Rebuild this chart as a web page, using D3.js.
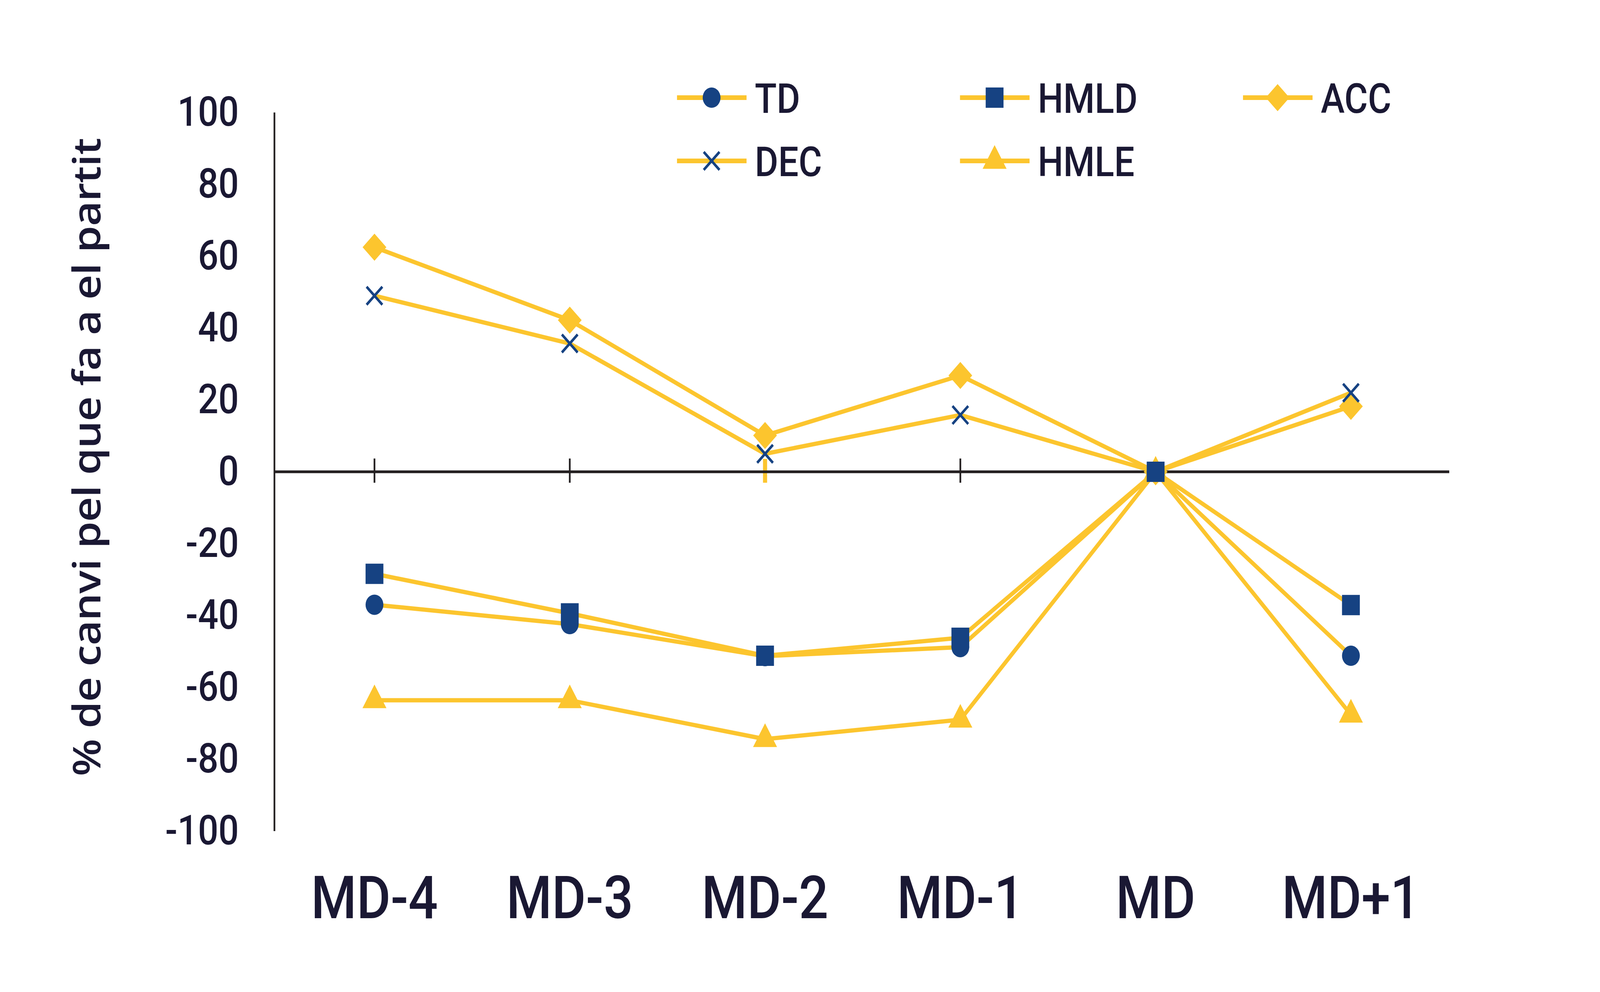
<!DOCTYPE html>
<html>
<head>
<meta charset="utf-8">
<script src="https://cdn.jsdelivr.net/npm/d3@7"></script>
<style>
  html, body { margin: 0; padding: 0; background: #fff; overflow: hidden; }
  svg { display: block; width: 100vw; height: 100vh; }
</style>
</head>
<body>
<svg id="chart"></svg>
<script>
// DATA
var categories = ["MD-4", "MD-3", "MD-2", "MD-1", "MD", "MD+1"];
var td   = [-37.0, -42.4, -51.3, -48.8, 0, -51.2];
var hmld = [-28.4, -39.4, -51.2, -46.2, 0, -37.1];
var acc  = [62.5, 42.2, 10.1, 26.8, 0, 18.2];
var dec  = [49.0, 35.7, 5.0, 15.8, 0, 22.0];
var hmle = [-63.6, -63.6, -74.4, -69.0, 0, -67.6];
var yTicks = [100, 80, 60, 40, 20, 0, -20, -40, -60, -80, -100];
var yTitle = "% de canvi pel que fa a el partit";

var series = [
    { name: "TD",   values: td,   marker: "circle" },
    { name: "HMLD", values: hmld, marker: "square" },
    { name: "ACC",  values: acc,  marker: "diamond" },
    { name: "DEC",  values: dec,  marker: "cross" },
    { name: "HMLE", values: hmle, marker: "triangle" }
];

var YELLOW = "#FCC52E", NAVY = "#164282", TEXT = "#1A1833", AXIS = "#231F20";

// the drawing is laid out in a 4670 x 2540 box and stretched to fill the window
var W = 4670, H = 2540;
var svg = d3.select("#chart")
    .attr("viewBox", "0 0 " + W + " " + H)
    .attr("preserveAspectRatio", "none");
svg.append("rect").attr("width", W).attr("height", H).attr("fill", "#fff");

// SCALES
var x = d3.scalePoint().domain(categories).range([1093, 3943]);
var y = d3.scaleLinear().domain([-100, 100]).range([2128, 288]);
var axisLeftX = 801, axisRightX = 4230;

// marker shapes
var crossType = {
    draw: function (ctx, size) {
        var r = Math.sqrt(size) / 2;
        ctx.moveTo(-r, -r); ctx.lineTo(r, r);
        ctx.moveTo(-r, r); ctx.lineTo(r, -r);
    }
};
function markerPath(kind) {
    if (kind == "circle") return d3.symbol().type(d3.symbolCircle).size(Math.PI * 26 * 26)();
    if (kind == "square") return d3.symbol().type(d3.symbolSquare).size(52 * 52)();
    if (kind == "diamond") return d3.symbol().type(d3.symbolSquare).size(49 * 49)();
    if (kind == "triangle") return d3.symbol().type(d3.symbolTriangle).size(Math.sqrt(3) / 4 * 70 * 70)();
    return d3.symbol().type(crossType).size(46 * 46)();
}
function drawMarker(g, kind, cx, cy) {
    var p = g.append("path")
        .attr("d", markerPath(kind))
        .attr("transform", "translate(" + cx + "," + cy + ")" + (kind == "diamond" ? " rotate(45)" : ""));
    if (kind == "cross") {
        p.attr("fill", "none").attr("stroke", NAVY).attr("stroke-width", 7);
    } else {
        p.attr("fill", (kind == "diamond" || kind == "triangle") ? YELLOW : NAVY);
    }
}

// Y TICK LABELS (plain hyphen for negatives, like the original)
var yAxis = svg.append("g")
    .attr("transform", "translate(" + axisLeftX + ",0)")
    .call(d3.axisLeft(y).tickValues(yTicks).tickSize(0).tickPadding(104)
        .tickFormat(function (d) { return String(d); }));
yAxis.select(".domain").remove();
yAxis.selectAll("text")
    .attr("fill", TEXT)
    .style("font-family", "Roboto, sans-serif")
    .style("font-weight", 500)
    .style("font-size", "105px");

// AXIS LINES
svg.append("line")
    .attr("x1", axisLeftX).attr("x2", axisLeftX)
    .attr("y1", y(100)).attr("y2", y(-100))
    .attr("stroke", AXIS).attr("stroke-width", 5);

// x ticks (none on the last category)
categories.slice(0, categories.length - 1).forEach(function (c) {
    var yellowTick = (c == "MD-2");
    svg.append("line")
        .attr("x1", x(c)).attr("x2", x(c))
        .attr("y1", y(0) - (yellowTick ? 33 : 34)).attr("y2", y(0) + 28)
        .attr("stroke", yellowTick ? YELLOW : AXIS)
        .attr("stroke-width", yellowTick ? 12 : 5);
});

svg.append("line")
    .attr("x1", axisLeftX).attr("x2", axisRightX)
    .attr("y1", y(0)).attr("y2", y(0))
    .attr("stroke", AXIS).attr("stroke-width", 7);

// X CATEGORY LABELS
svg.append("g").selectAll("text")
    .data(categories)
    .join("text")
    .attr("x", function (d) { return x(d); })
    .attr("y", 2351)
    .attr("text-anchor", "middle")
    .attr("fill", TEXT)
    .style("font-family", "Roboto, sans-serif")
    .style("font-weight", 500)
    .style("font-size", "152px")
    .text(function (d) { return d; });

// Y TITLE
svg.append("text")
    .attr("transform", "translate(293,1170) rotate(-90)")
    .attr("text-anchor", "middle")
    .attr("textLength", 1635)
    .attr("lengthAdjust", "spacing")
    .attr("fill", TEXT)
    .style("font-family", "'Open Sans', sans-serif")
    .style("font-weight", 600)
    .style("font-size", "111px")
    .text(yTitle);

// LINES
var line = d3.line()
    .x(function (d, i) { return x(categories[i]); })
    .y(function (d) { return y(d); });

var plot = svg.append("g");
series.forEach(function (s) {
    plot.append("path")
        .attr("d", line(s.values))
        .attr("fill", "none")
        .attr("stroke", YELLOW)
        .attr("stroke-width", 11)
        .attr("stroke-linejoin", "round");
});

// MARKERS (square drawn last, it sits on top at MD)
var markerOrder = ["HMLE", "ACC", "TD", "DEC", "HMLD"];
markerOrder.forEach(function (name) {
    var s = series.find(function (d) { return d.name == name; });
    var g = plot.append("g");
    s.values.forEach(function (v, i) {
        drawMarker(g, s.marker, x(categories[i]), y(v));
    });
});

// LEGEND
var legend = svg.append("g");
series.forEach(function (s, i) {
    var col = i % 3, row = Math.floor(i / 3);
    var lx = 1976 + col * 826, ly = 250 + row * 162;
    legend.append("line")
        .attr("x1", lx).attr("x2", lx + 203)
        .attr("y1", ly).attr("y2", ly)
        .attr("stroke", YELLOW).attr("stroke-width", 12);
    drawMarker(legend, s.marker, lx + 101, ly);
    legend.append("text")
        .attr("x", lx + 227)
        .attr("y", ly + 39)
        .attr("fill", TEXT)
        .style("font-family", "Roboto, sans-serif")
        .style("font-weight", 500)
        .style("font-size", "105px")
        .text(s.name);
});
</script>
</body>
</html>
